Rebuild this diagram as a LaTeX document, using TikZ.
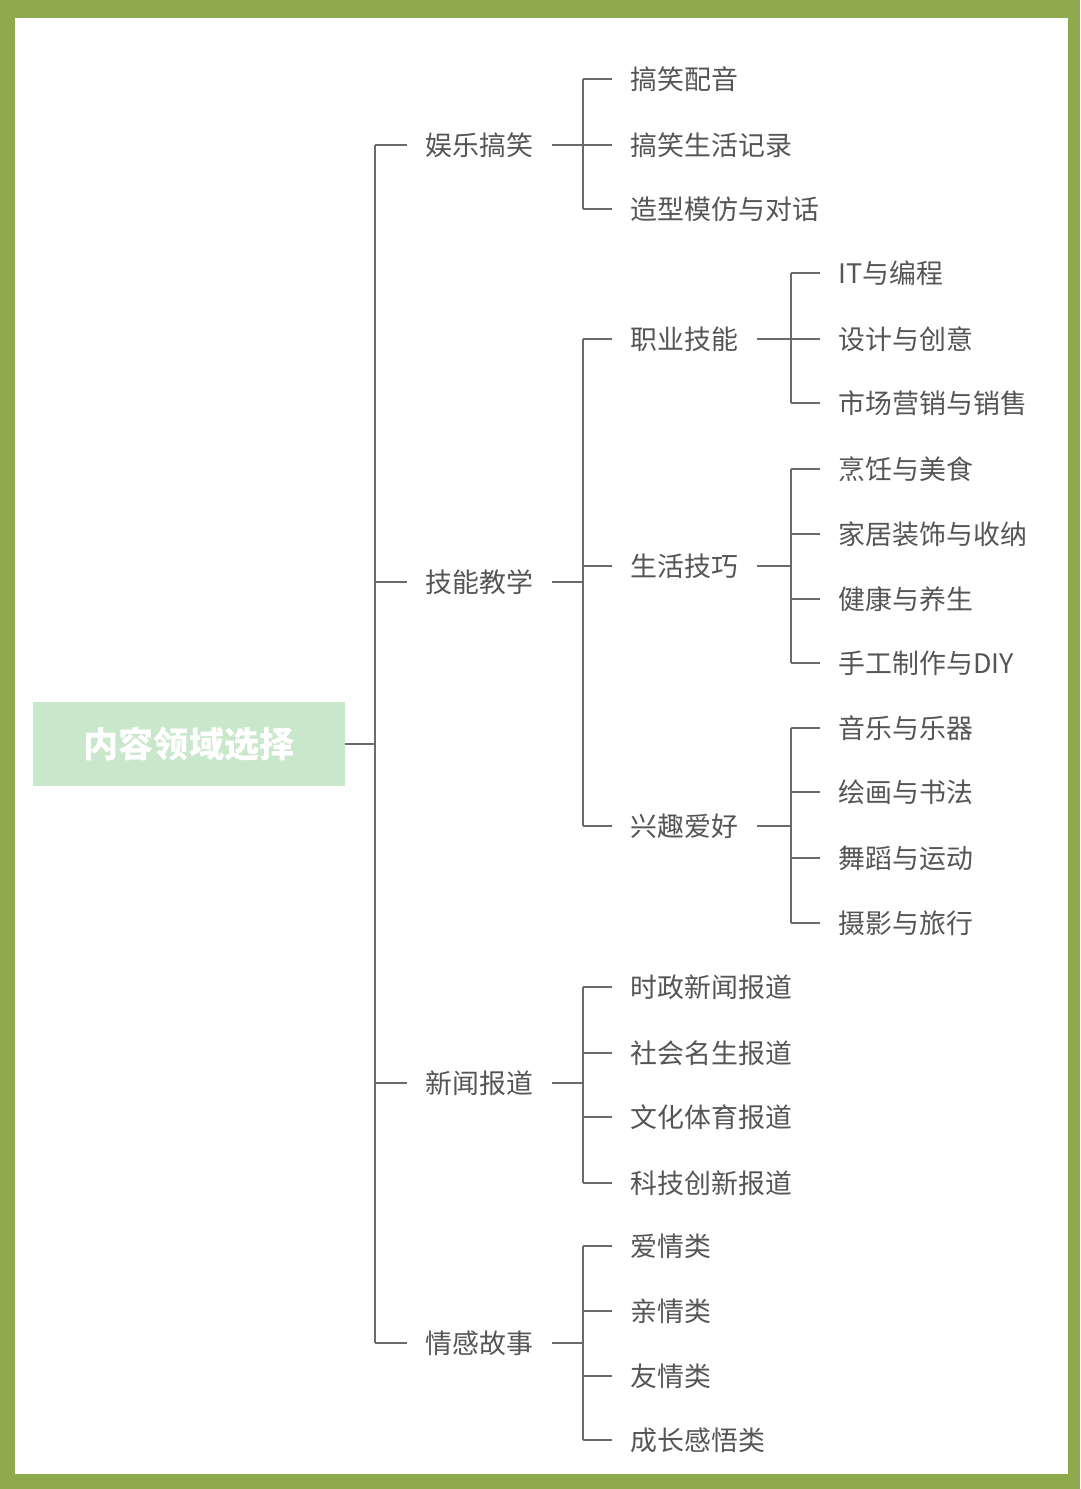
\documentclass[tikz,border=0pt]{standalone}
\usepackage{fontspec}
\setmainfont{Noto Sans CJK SC}
\usetikzlibrary{positioning}
\definecolor{frame}{HTML}{8FAA4C}
\definecolor{rootfill}{HTML}{C9E7CB}
\definecolor{txt}{HTML}{555555}
\definecolor{ln}{HTML}{6A6A6A}
\tikzset{
  item/.style={anchor=west,inner sep=2pt,text=txt,font=\fontsize{15.3}{17}\selectfont},
  link/.style={draw=ln,line width=0.9pt},
}
\begin{document}
\begin{tikzpicture}[x=0.02cm,y=-0.02cm]
\useasboundingbox (0,0) rectangle (1080,1489);
\fill[frame] (0,0) rectangle (1080,1489);
\fill[white] (15,18) rectangle (1068,1474);

% root
\node[fill=rootfill,minimum width=312*0.02cm,minimum height=84*0.02cm,inner sep=0pt,
  text=white,font=\bfseries\fontsize{20}{22}\selectfont] (root) at (189,744) {内容领域选择};

% bus positions
\coordinate (b1) at (375,0);
\coordinate (b2) at (583,0);
\coordinate (b3) at (791,0);

% level 1
\node[item] (yl) at (422,145) {娱乐搞笑};
\node[item] (jn) at (422,582) {技能教学};
\node[item] (xw) at (422,1083) {新闻报道};
\node[item] (qg) at (422,1343) {情感故事};

\draw[link] (root.east) -- (root -| b1);
\draw[link] (yl -| b1) -- (qg -| b1);
\foreach \n in {yl,jn,xw,qg}
  \draw[link] (\n -| b1) -- ([xshift=-0.3cm]\n.west);

% level 2
\node[item] (yl1) at (627,79) {搞笑配音};
\node[item] (yl2) at (627,145) {搞笑生活记录};
\node[item] (yl3) at (627,209) {造型模仿与对话};
\node[item] (jn1) at (627,339) {职业技能};
\node[item] (jn2) at (627,566) {生活技巧};
\node[item] (jn3) at (627,826) {兴趣爱好};
\node[item] (xw1) at (627,987) {时政新闻报道};
\node[item] (xw2) at (627,1053) {社会名生报道};
\node[item] (xw3) at (627,1117) {文化体育报道};
\node[item] (xw4) at (627,1183) {科技创新报道};
\node[item] (qg1) at (627,1246) {爱情类};
\node[item] (qg2) at (627,1311) {亲情类};
\node[item] (qg3) at (627,1376) {友情类};
\node[item] (qg4) at (627,1440) {成长感悟类};

% level 3
\node[item] (zy1) at (835,273) {IT与编程};
\node[item] (zy2) at (835,339) {设计与创意};
\node[item] (zy3) at (835,403) {市场营销与销售};
\node[item] (sh1) at (835,469) {烹饪与美食};
\node[item] (sh2) at (835,534) {家居装饰与收纳};
\node[item] (sh3) at (835,599) {健康与养生};
\node[item] (sh4) at (835,663) {手工制作与DIY};
\node[item] (xq1) at (835,728) {音乐与乐器};
\node[item] (xq2) at (835,792) {绘画与书法};
\node[item] (xq3) at (835,858) {舞蹈与运动};
\node[item] (xq4) at (835,923) {摄影与旅行};

% connectors: parent, bus, first child, last child, children
\foreach \p/\b/\f/\l/\cs in {yl/b2/yl1/yl3/{yl1,yl2,yl3},
    jn/b2/jn1/jn3/{jn1,jn2,jn3},
    xw/b2/xw1/xw4/{xw1,xw2,xw3,xw4},
    qg/b2/qg1/qg4/{qg1,qg2,qg3,qg4},
    jn1/b3/zy1/zy3/{zy1,zy2,zy3},
    jn2/b3/sh1/sh4/{sh1,sh2,sh3,sh4},
    jn3/b3/xq1/xq4/{xq1,xq2,xq3,xq4}}{
  \draw[link] ([xshift=0.3cm]\p.east) -- (\p -| \b);
  \draw[link] (\f -| \b) -- (\l -| \b);
  \foreach \c in \cs
    \draw[link] (\c -| \b) -- ([xshift=-0.3cm]\c.west);
}
\end{tikzpicture}
\end{document}
